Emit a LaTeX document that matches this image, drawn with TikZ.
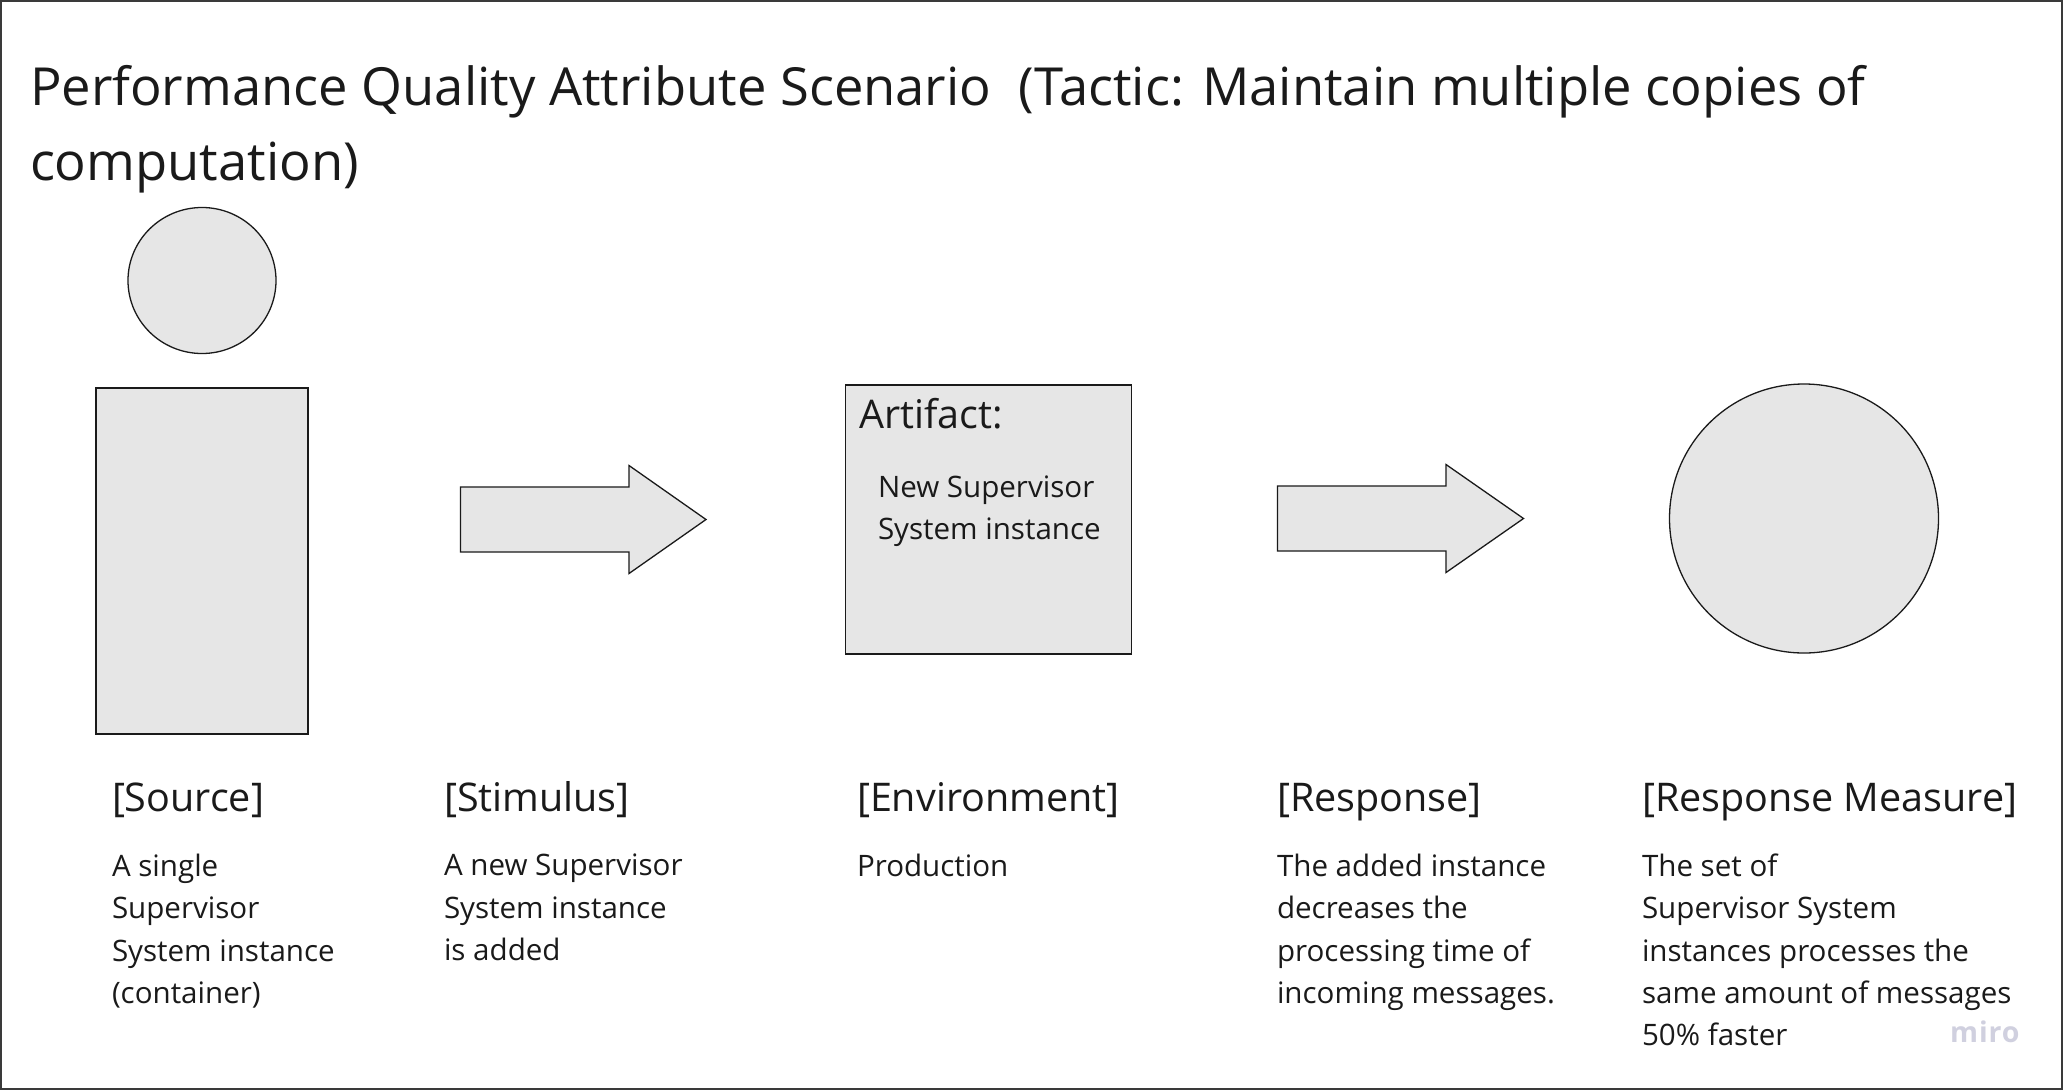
\documentclass[tikz,border=0pt]{standalone}
\usepackage{fontspec}
\setmainfont{Open Sans}
\usetikzlibrary{shapes.geometric}
\definecolor{shapefill}{HTML}{E6E6E6}
\definecolor{ink}{HTML}{1A1A1A}
\definecolor{framecol}{HTML}{3A3A3A}
\definecolor{wm}{HTML}{D0D0DF}
\tikzset{
  shapebox/.style={draw=ink,fill=shapefill,line width=1.3pt,inner sep=0pt,outer sep=0pt},
  arrowshape/.style={draw=ink,fill=shapefill,line width=1.3pt,line join=miter},
  titletext/.style={anchor=base west,inner sep=0pt,outer sep=0pt,text=ink,font=\fontsize{52.5}{75}\selectfont\addfontfeatures{Kerning=Off}},
  heading/.style={anchor=base west,inner sep=0pt,outer sep=0pt,text=ink,font=\fontsize{39.5}{44}\selectfont},
  bodytext/.style={anchor=north west,inner sep=0pt,outer sep=0pt,text=ink,align=left,font=\fontsize{29.55}{42.3}\selectfont},
}
\begin{document}
\begin{tikzpicture}[x=1pt,y=-1pt]
\useasboundingbox (0,0) rectangle (2063,1090);
\fill[white] (0,0) rectangle (2063,1090);
\draw[framecol,line width=2pt] (1,1) rectangle (2062,1089);

\node[titletext] (title1) at (30,105) {Performance Quality Attribute Scenario\ \ (Tactic: Maintain multiple copies of};
\node[titletext] (title2) at (30,180) {computation)};

\node[shapebox,ellipse,minimum width=148pt,minimum height=146pt] (head) at (202,280.5) {};
\node[shapebox,rectangle,minimum width=212pt,minimum height=346pt] (body) at (202,561) {};
\draw[arrowshape] (460.5,487) -- (629,487) -- (629,465.5) -- (706,519.5) -- (629,573.5) -- (629,552) -- (460.5,552) -- cycle;
\node[shapebox,rectangle,minimum width=286.5pt,minimum height=269pt] (artifact) at (988.5,519.5) {};
\node[heading] (artlabel) at (859,428) {Artifact:};
\node[bodytext] (arttext) at (878,476) {New Supervisor\\System instance};
\draw[arrowshape] (1277.5,486) -- (1446,486) -- (1446,464.5) -- (1523.5,518.5) -- (1446,572.5) -- (1446,551) -- (1277.5,551) -- cycle;
\node[shapebox,circle,minimum size=269pt] (measure) at (1804,518.5) {};

\node[heading] (h1) at (112,811) {[Source]};
\node[heading] (h2) at (444,811) {[Stimulus]};
\node[heading] (h3) at (857,811) {[Environment]};
\node[heading] (h4) at (1277,811) {[Response]};
\node[heading] (h5) at (1642,811) {[Response Measure]};

\node[bodytext] (t1) at (112,854) {A single\\Supervisor\\System instance\\(container)};
\node[bodytext] (t2) at (444,854) {A new Supervisor\\System instance\\is added};
\node[bodytext] (t3) at (857,854) {Production};
\node[bodytext] (t4) at (1277,854) {The added instance\\decreases the\\processing time of\\incoming messages.};
\node[bodytext] (t5) at (1642,854) {The set of\\Supervisor System\\instances processes the\\same amount of messages\\50\% faster};

\node[anchor=base west,inner sep=0pt,text=wm,font=\fontsize{28.5}{32}\bfseries\selectfont\addfontfeatures{LetterSpace=3}] (wmark) at (1950,1042) {miro};
\end{tikzpicture}
\end{document}
